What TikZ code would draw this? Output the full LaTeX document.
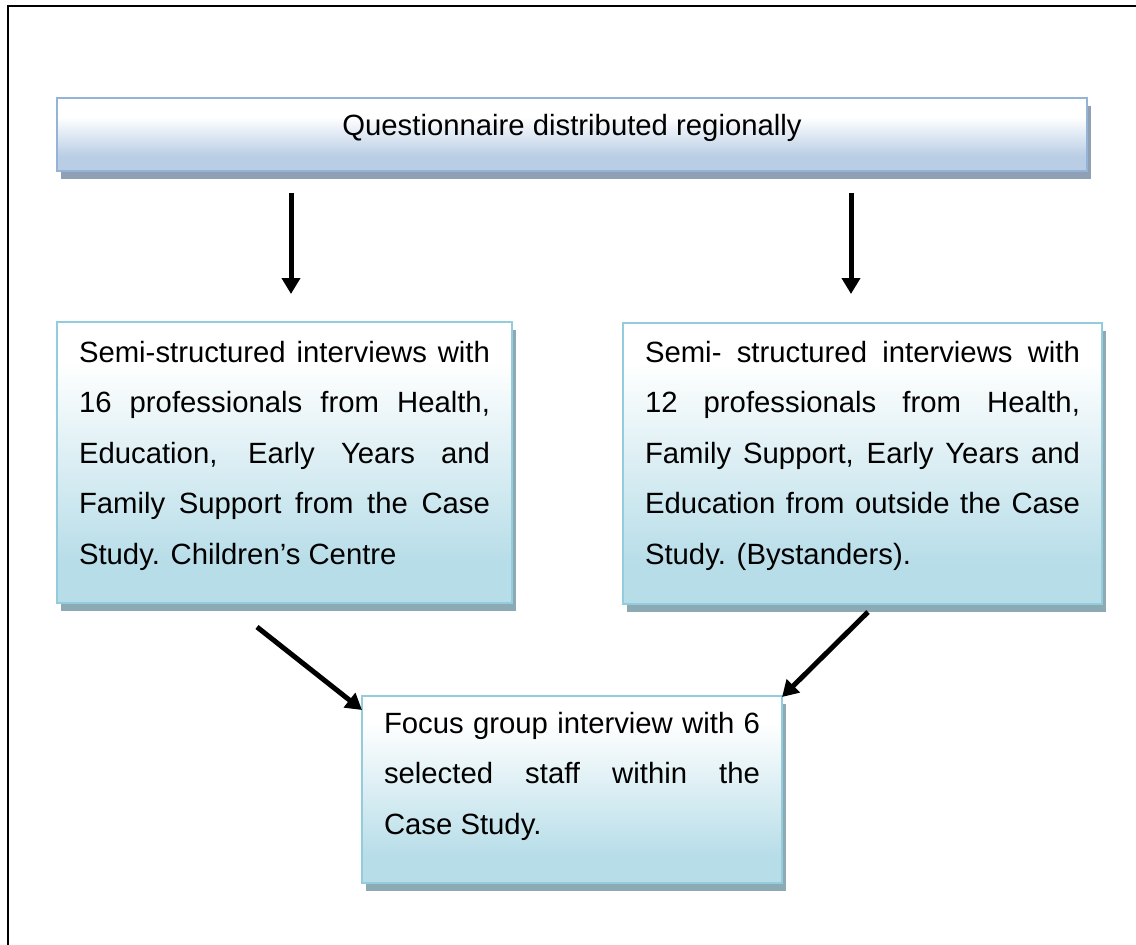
\documentclass[tikz,border=0pt]{standalone}
\usepackage{fontspec}
\setmainfont{Liberation Sans}
\usetikzlibrary{arrows.meta,calc,shadows}

\definecolor{aquaedge}{RGB}{147,205,221}
\definecolor{aquafill}{RGB}{183,221,232}
\definecolor{aquashade}{RGB}{140,170,180}
\definecolor{blueedge}{RGB}{149,179,215}
\definecolor{bluefill}{RGB}{185,205,229}
\definecolor{blueshade}{RGB}{143,160,180}

% white at the top fading into the fill colour towards the bottom
\pgfdeclareverticalshading{aquafade}{100bp}{color(0bp)=(aquafill); color(32bp)=(aquafill); color(68bp)=(white); color(100bp)=(white)}
\pgfdeclareverticalshading{bluefade}{100bp}{color(0bp)=(bluefill); color(35bp)=(bluefill); color(62bp)=(white); color(100bp)=(white)}

\tikzset{
  boxbase/.style={line width=2pt, inner xsep=22pt, inner ysep=0pt, outer sep=0pt,
    anchor=north west, font=\fontsize{29.3}{50.5}\selectfont},
  aquabox/.style={boxbase, draw=aquaedge, shading=aquafade,
    general shadow={fill=aquashade, shadow xshift=4pt, shadow yshift=-8pt}},
  bluebox/.style={boxbase, draw=blueedge, shading=bluefade,
    general shadow={fill=blueshade, shadow xshift=4pt, shadow yshift=-8pt}},
  flow/.style={line width=5pt, -{Triangle[width=18pt,length=16pt]}},
  frameline/.style={line width=2.6pt}
}
\newcommand\jline[1]{\makebox[\linewidth][s]{#1}\par}

\begin{document}
\begin{tikzpicture}[x=1pt,y=-1pt]
\useasboundingbox (0,0) rectangle (1136,945);

% page frame
\draw[frameline] (8,946) -- (8,6) -- (1137,6);

\node[bluebox] (q) at (57,98)
  {\parbox[t][73pt][t]{986pt}{\centering\rule{0pt}{37pt}Questionnaire distributed regionally}};

\node[aquabox] (l) at (57,322)
  {\parbox[t][281pt][t]{411pt}{%
    \jline{\rule{0pt}{40pt}Semi-structured interviews with}%
    \jline{16 professionals from Health,}%
    \jline{Education, Early Years and}%
    \jline{Family Support from the Case}%
    Study. Children’s Centre}};

\node[aquabox] (r) at (623,323)
  {\parbox[t][281pt][t]{435pt}{%
    \jline{\rule{0pt}{39pt}Semi- structured interviews with}%
    \jline{12 professionals from Health,}%
    \jline{Family Support, Early Years and}%
    \jline{Education from outside the Case}%
    Study. (Bystanders).}};

\node[aquabox] (b) at (362,696)
  {\parbox[t][187pt][t]{376pt}{%
    \jline{\rule{0pt}{37pt}Focus group interview with 6}%
    \jline{selected staff within the}%
    Case Study.}};

% connectors
\draw[flow] ($(q.south west)+(234,22)$) -- ($(l.north west)+(234,-28)$);
\draw[flow] ($(q.south west)+(794,22)$) -- ($(r.north west)+(228,-29)$);
\draw[flow] ($(l.south west)+(200,24)$) -- ($(b.north west)+(0,14)$);
\draw[flow] ($(r.south west)+(245,8)$) -- ($(b.north east)+(0,1)$);
\end{tikzpicture}
\end{document}
